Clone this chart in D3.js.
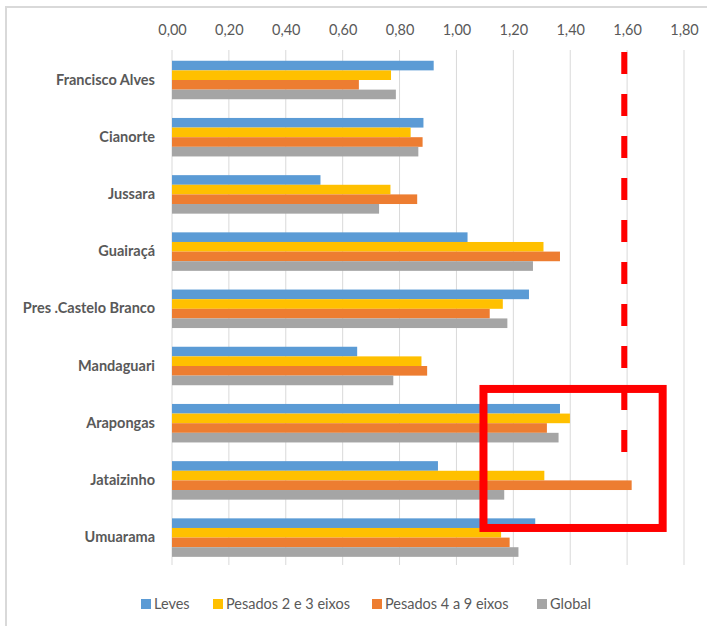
<!DOCTYPE html>
<html>
<head>
<meta charset="utf-8">
<script src="https://cdn.jsdelivr.net/npm/d3@7"></script>
<style>
  body { margin: 0; background: #fff; }
  svg { display: block; font-family: Lato, "Open Sans", sans-serif; }
</style>
</head>
<body>
<script>
// Data
const categories = ['Francisco Alves', 'Cianorte', 'Jussara', 'Guairaçá', 'Pres .Castelo Branco',
  'Mandaguari', 'Arapongas', 'Jataizinho', 'Umuarama'];
const seriesNames = ['Leves', 'Pesados 2 e 3 eixos', 'Pesados 4 a 9 eixos', 'Global'];
const leves   = [0.92, 0.884, 0.522, 1.039, 1.255, 0.651, 1.364, 0.935, 1.277];
const pesados23 = [0.77, 0.839, 0.768, 1.306, 1.163, 0.877, 1.399, 1.309, 1.157];
const pesados49 = [0.657, 0.881, 0.862, 1.364, 1.117, 0.897, 1.318, 1.616, 1.187];
const global  = [0.787, 0.866, 0.728, 1.269, 1.179, 0.778, 1.359, 1.168, 1.218];
const tickValues = [0, 0.2, 0.4, 0.6, 0.8, 1.0, 1.2, 1.4, 1.6, 1.8];
const limitValue = 1.59;
const boxRange = [1.095, 1.725];

const colors = ['#5B9BD5', '#FFC000', '#ED7D31', '#A5A5A5'];
const seriesValues = [leves, pesados23, pesados49, global];

const width = 707, height = 626;
const svg = d3.select('body').append('svg')
  .attr('width', width)
  .attr('height', height);

// outer frame (right and bottom edges run off the picture)
svg.append('rect')
  .attr('x', 6).attr('y', 7)
  .attr('width', 720).attr('height', 640)
  .attr('fill', 'none')
  .attr('stroke', '#d9d9d9')
  .attr('stroke-width', 2);

// Scales
const x = d3.scaleLinear().domain([0, 1.8]).range([172, 684]);
const y = d3.scaleBand().domain(categories).range([51.4, 566.2])
  .paddingInner(0.327).paddingOuter(0.1635);
const ySub = d3.scaleBand().domain(seriesNames).range([0, y.bandwidth()]);

// gridlines
svg.append('g').selectAll('line')
  .data(tickValues)
  .join('line')
  .attr('x1', d => x(d)).attr('x2', d => x(d))
  .attr('y1', 50).attr('y2', 565)
  .attr('stroke', '#d9d9d9')
  .attr('stroke-width', 1);

// top axis labels
const fmt = d => d3.format('.2f')(d).replace('.', ',');
const xAxis = d3.axisTop(x).tickValues(tickValues).tickFormat(fmt).tickSize(0).tickPadding(0);
const gx = svg.append('g')
  .attr('transform', 'translate(0,35)')
  .call(xAxis);
gx.select('.domain').remove();
gx.selectAll('text')
  .attr('font-family', 'Lato, sans-serif')
  .attr('font-size', 14.5)
  .attr('fill', '#595959');

// bars
const rows = categories.map((c, i) => ({
  cat: c,
  vals: seriesNames.map((s, j) => ({ s: s, v: seriesValues[j][i], c: colors[j] }))
}));

const group = svg.append('g').selectAll('g')
  .data(rows)
  .join('g')
  .attr('transform', d => 'translate(0,' + y(d.cat) + ')');

group.selectAll('rect')
  .data(d => d.vals)
  .join('rect')
  .attr('x', x(0))
  .attr('y', d => ySub(d.s))
  .attr('width', d => x(d.v) - x(0))
  .attr('height', ySub.bandwidth())
  .attr('fill', d => d.c);

// category labels
const yAxis = d3.axisLeft(y).tickSize(0).tickPadding(0);
const gy = svg.append('g')
  .attr('transform', 'translate(155,0)')
  .call(yAxis);
gy.select('.domain').remove();
gy.selectAll('text')
  .attr('font-family', 'Lato, sans-serif')
  .attr('font-size', 14.5)
  .attr('font-weight', 'bold')
  .attr('fill', '#595959');

// red dashed limit line
svg.append('line')
  .attr('x1', x(limitValue)).attr('x2', x(limitValue))
  .attr('y1', 52).attr('y2', 459)
  .attr('stroke', '#ff0000')
  .attr('stroke-width', 6)
  .attr('stroke-dasharray', '22 20');

// red highlight box
const boxTop = y('Arapongas') - 15;
const boxBottom = y('Umuarama') + ySub('Pesados 2 e 3 eixos');
svg.append('rect')
  .attr('x', x(boxRange[0]))
  .attr('y', boxTop)
  .attr('width', x(boxRange[1]) - x(boxRange[0]))
  .attr('height', boxBottom - boxTop)
  .attr('fill', 'none')
  .attr('stroke', '#ff0000')
  .attr('stroke-width', 8);

// legend
const legendX = [141, 213, 372, 537];
const legend = svg.append('g').selectAll('g')
  .data(seriesNames)
  .join('g')
  .attr('transform', (d, i) => 'translate(' + legendX[i] + ',599)');
legend.append('rect')
  .attr('width', 10).attr('height', 10)
  .attr('fill', (d, i) => colors[i]);
legend.append('text')
  .attr('x', 13).attr('y', 10)
  .attr('font-size', 14.5)
  .attr('fill', '#595959')
  .text(d => d);
</script>
</body>
</html>
